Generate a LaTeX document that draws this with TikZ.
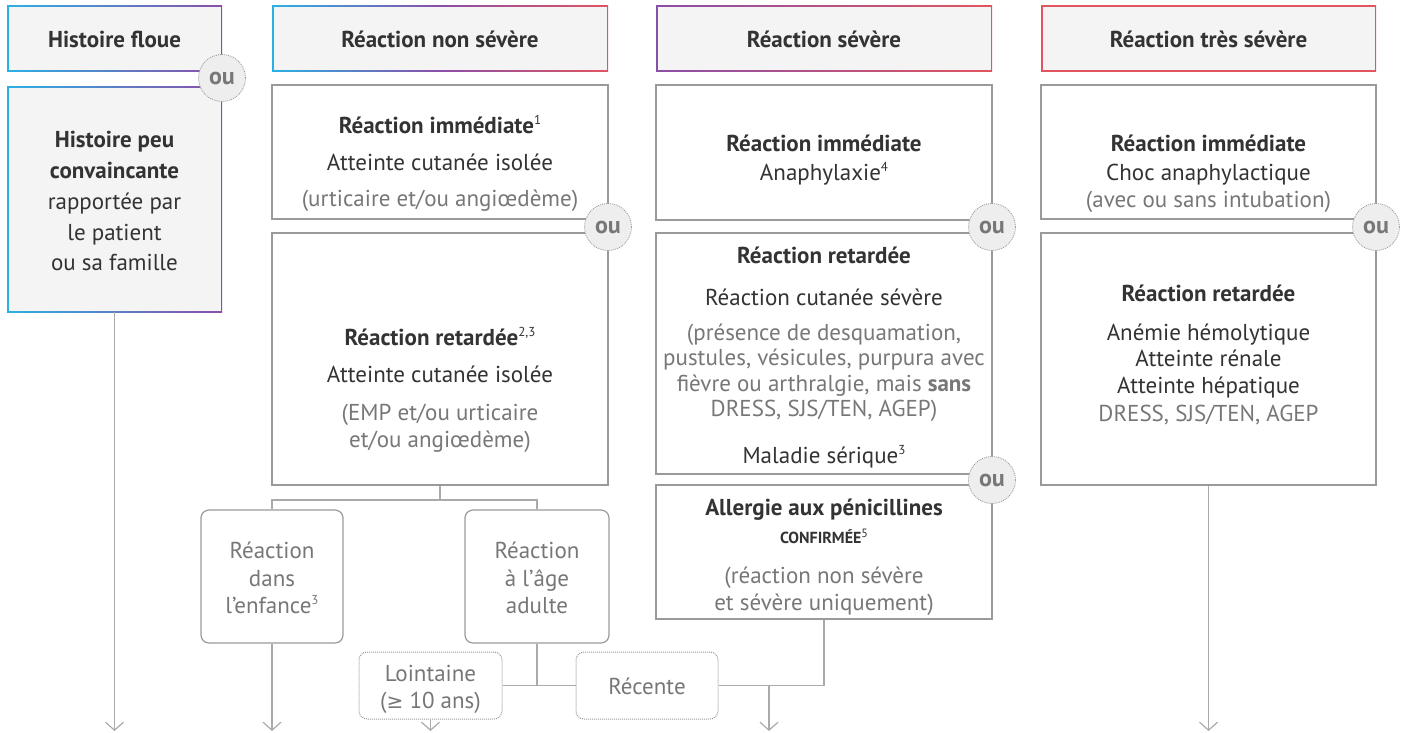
\documentclass[tikz,border=0pt]{standalone}
\usepackage{fontspec}
\setmainfont{PT Sans}
\newfontfamily\symf{DejaVu Sans}
\usetikzlibrary{arrows.meta}
\definecolor{dark}{HTML}{333333}
\definecolor{mid}{HTML}{777777}
\definecolor{lnc}{HTML}{AAAAAA}
\definecolor{bdr}{HTML}{9A9A9A}
\definecolor{hfill}{HTML}{F4F4F4}
\definecolor{oufill}{HTML}{EEEEEE}
\definecolor{cy}{HTML}{2BB0E4}
\definecolor{pu}{HTML}{8A4FA8}
\definecolor{rd}{HTML}{E0555F}
\newcommand{\supn}[1]{\raisebox{0.38em}{\fontsize{13}{13}\selectfont\mdseries #1}}
\tikzset{
  box/.style={draw=bdr, line width=1.2pt, fill=white, inner sep=0pt},
  rbox/.style={box, rounded corners=8pt},
  dbox/.style={box, rounded corners=8pt, dash pattern=on 1pt off 1pt, line width=1pt},
  gbox/.style={inner sep=0pt, path picture={\fill[hfill] ([shift={(1.5pt,1.5pt)}]path picture bounding box.south west) rectangle ([shift={(-1.5pt,-1.5pt)}]path picture bounding box.north east);}},
  oucirc/.style={circle, fill=oufill, draw=bdr, line width=0.8pt, dash pattern=on 1pt off 1pt, minimum size=47pt, inner sep=0pt, font=\fontsize{24}{26}\selectfont\bfseries, text=mid},
  txt/.style={inner sep=0pt, text height=16pt, text depth=0pt, font=\fontsize{23}{27}\selectfont, text=dark},
  btxt/.style={txt, font=\fontsize{23}{27}\selectfont\bfseries},
  gtxt/.style={txt, text=mid},
  conn/.style={draw=lnc, line width=1.3pt},
  arr/.style={conn, -{Straight Barb[length=8pt,width=18pt,line width=1.2pt]}}
}
\begin{document}
\begin{tikzpicture}[x=1pt,y=-1pt]
\useasboundingbox (0,0) rectangle (1403,732);
% ---------- column 1 ----------
\node[gbox, left color=cy, right color=pu, minimum width=215pt, minimum height=66pt] (h1) at (114.5,38) {};
\node[gbox, left color=cy, right color=pu, minimum width=215pt, minimum height=226pt] (b1) at (114.5,199) {};
\node[oucirc] (ou1) at (222,78) {ou};
\node[btxt] (t101) at (114.5,39) {Histoire floue};
\node[btxt] (t102) at (114.5,139) {Histoire peu};
\node[btxt] (t103) at (114.5,170) {convaincante};
\node[txt] (t104) at (114.5,201) {rapportée par};
\node[txt] (t105) at (114.5,232) {le patient};
\node[txt] (t106) at (114.5,262) {ou sa famille};
% ---------- column 2 ----------
\node[gbox, left color=cy, right color=rd, middle color=pu, minimum width=336pt, minimum height=66pt] (h2) at (440,38) {};
\node[box, minimum width=336pt, minimum height=134pt] (b2a) at (440,152) {};
\node[box, minimum width=336pt, minimum height=252pt] (b2b) at (440,359) {};
\node[oucirc] (ou2) at (608,227) {ou};
\node[btxt] (t201) at (440,39) {Réaction non sévère};
\node[btxt] (t202) at (440,125) {Réaction immédiate\supn{1}};
\node[txt] (t203) at (440,162) {Atteinte cutanée isolée};
\node[gtxt] (t204) at (440,198) {(urticaire et/ou angiœdème)};
\node[btxt] (t205) at (440,337) {Réaction retardée\supn{2,3}};
\node[txt] (t206) at (440,374) {Atteinte cutanée isolée};
\node[gtxt] (t207) at (440,412) {(EMP et/ou urticaire};
\node[gtxt] (t208) at (440,439) {et/ou angiœdème)};
\node[rbox, minimum width=142pt, minimum height=133pt] (enf) at (272,576.5) {};
\node[rbox, minimum width=144pt, minimum height=133pt] (adu) at (537,576.5) {};
\node[gtxt] (t209) at (272,550) {Réaction};
\node[gtxt] (t210) at (272,578) {dans};
\node[gtxt] (t211) at (272,605) {l’enfance\supn{3}};
\node[gtxt] (t212) at (537,550) {Réaction};
\node[gtxt] (t213) at (537,578) {à l’âge};
\node[gtxt] (t214) at (537,605) {adulte};
\node[dbox, minimum width=143pt, minimum height=67pt] (loin) at (430.5,685.5) {};
\node[dbox, minimum width=142pt, minimum height=67pt] (rec) at (647,685.5) {};
\node[gtxt] (t215) at (430.5,673) {Lointaine};
\node[gtxt] (t216) at (430.5,700) {({\symf\fontsize{20}{22}\selectfont ≥} 10 ans)};
\node[gtxt] (t217) at (647,686) {Récente};
% ---------- column 3 ----------
\node[gbox, left color=pu, right color=rd, minimum width=336pt, minimum height=66pt] (h3) at (824,38) {};
\node[box, minimum width=336pt, minimum height=135pt] (b3a) at (824,152.5) {};
\node[box, minimum width=336pt, minimum height=241pt] (b3b) at (824,353.5) {};
\node[box, minimum width=336pt, minimum height=134pt] (b3c) at (824,552) {};
\node[oucirc] (ou3) at (992,227) {ou};
\node[oucirc] (ou4) at (992,480) {ou};
\node[btxt] (t301) at (824,39) {Réaction sévère};
\node[btxt] (t302) at (824,143) {Réaction immédiate};
\node[txt] (t303) at (824,172) {Anaphylaxie\supn{4}};
\node[btxt] (t304) at (824,255) {Réaction retardée};
\node[txt] (t305) at (824,297) {Réaction cutanée sévère};
\node[gtxt] (t306) at (824,332) {(présence de desquamation,};
\node[gtxt] (t307) at (824,357) {pustules, vésicules, purpura avec};
\node[gtxt] (t308) at (824,383) {fièvre ou arthralgie, mais \textbf{sans}};
\node[gtxt] (t309) at (824,408) {DRESS, SJS/TEN, AGEP)};
\node[txt] (t310) at (824,455) {Maladie sérique\supn{3}};
\node[btxt] (t311) at (824,507) {Allergie aux pénicillines};
\node[txt, text height=11pt, font=\fontsize{16}{18}\selectfont\bfseries] (t312) at (824,538) {CONFIRMÉE\raisebox{0.35em}{\fontsize{12}{12}\selectfont\mdseries 5}};
\node[gtxt] (t313) at (824,575) {(réaction non sévère};
\node[gtxt] (t314) at (824,602) {et sévère uniquement)};
% ---------- column 4 ----------
\node[gbox, left color=rd, right color=rd, minimum width=335pt, minimum height=66pt] (h4) at (1208.5,38) {};
\node[box, minimum width=335pt, minimum height=134pt] (b4a) at (1208.5,152) {};
\node[box, minimum width=335pt, minimum height=252pt] (b4b) at (1208.5,359) {};
\node[oucirc] (ou5) at (1376,227) {ou};
\node[btxt] (t401) at (1208.5,39) {Réaction très sévère};
\node[btxt] (t402) at (1208.5,143) {Réaction immédiate};
\node[txt] (t403) at (1208.5,172) {Choc anaphylactique};
\node[gtxt] (t404) at (1208.5,199) {(avec ou sans intubation)};
\node[btxt] (t405) at (1208.5,293) {Réaction retardée};
\node[txt] (t406) at (1208.5,332) {Anémie hémolytique};
\node[txt] (t407) at (1208.5,358) {Atteinte rénale};
\node[txt] (t408) at (1208.5,385) {Atteinte hépatique};
\node[gtxt] (t409) at (1208.5,413) {DRESS, SJS/TEN, AGEP};
% ---------- connectors ----------
\coordinate (e1) at (114.5,731);
\coordinate (e2) at (272,731);
\coordinate (e3) at (430.5,731);
\coordinate (e4) at (769,731);
\coordinate (e5) at (1208.5,731);
\coordinate (s2) at (440,500);
\coordinate (j1) at (537,686);
\coordinate (j2) at (769,686);
\draw[arr] (b1.south) -- (e1);
\draw[conn] (b2b.south) -- (s2) -| (enf.north);
\draw[conn] (s2) -| (adu.north);
\draw[arr] (enf.south) -- (e2);
\draw[conn] (adu.south) -- (j1);
\draw[conn] (loin.east) -- (rec.west);
\draw[arr] (loin.south) -- (e3);
\draw[conn] (b3c.south) |- (rec.east);
\draw[arr] (j2) -- (e4);
\draw[arr] (b4b.south) -- (e5);
\end{tikzpicture}
\end{document}
